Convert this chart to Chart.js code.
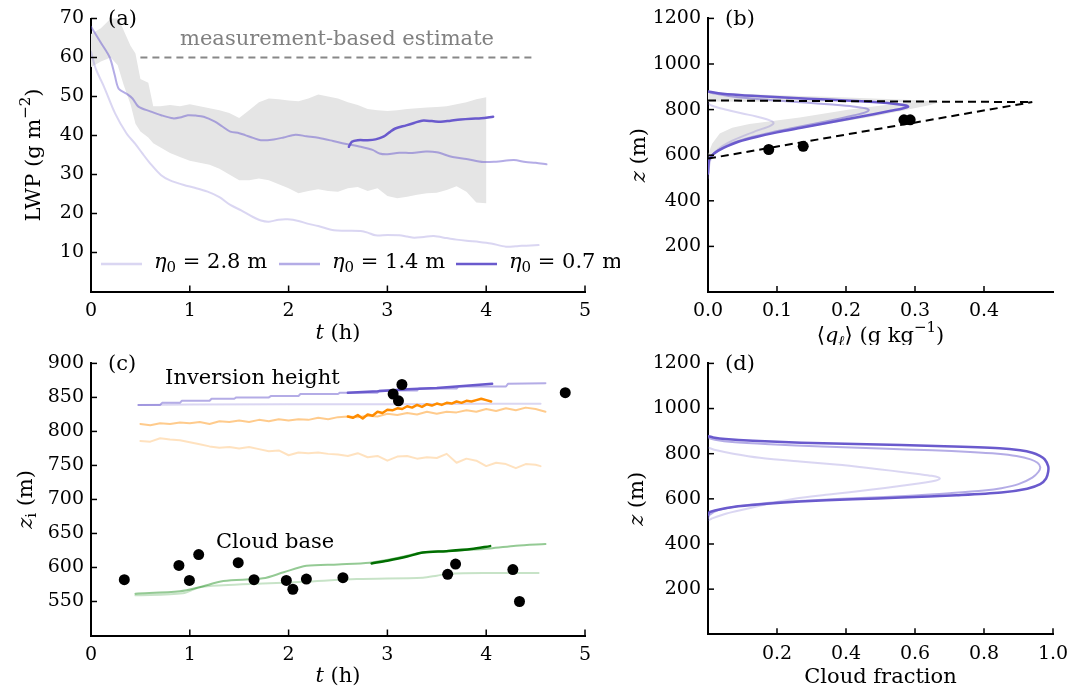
<!DOCTYPE html>
<html>
<head>
<meta charset="utf-8">
<script src="https://cdn.jsdelivr.net/npm/chart.js@4.4.1/dist/chart.umd.min.js"></script>
<style>
  body { margin: 0; background: #fff; width: 1084px; height: 689px; overflow: hidden; position: relative; }
  canvas { position: absolute; }
</style>
</head>
<body>
<canvas id="ca" width="620" height="345" style="left:0;top:0"></canvas>
<canvas id="cb" width="464" height="345" style="left:620px;top:0"></canvas>
<canvas id="cc" width="620" height="344" style="left:0;top:345px"></canvas>
<canvas id="cd" width="464" height="344" style="left:620px;top:345px"></canvas>
<script>
// ---- (a) liquid water path vs time ----
const aBandT  = [0, 0.1, 0.2, 0.27, 0.33, 0.4, 0.45, 0.5, 0.58, 0.63, 0.7, 0.8, 0.9, 1.0, 1.1, 1.2, 1.3, 1.4, 1.5, 1.6, 1.7, 1.8, 1.9, 2.0, 2.1, 2.2, 2.3, 2.4, 2.5, 2.6, 2.7, 2.8, 2.9, 3.0, 3.1, 3.2, 3.3, 3.4, 3.5, 3.6, 3.7, 3.8, 3.9, 4.0];
const aBandHi = [66, 67.5, 70, 70.5, 67, 63, 61, 54.5, 53.5, 47.5, 47.5, 47.8, 47.5, 48, 47.5, 47, 46.5, 45.8, 44.5, 46.5, 48.5, 49.5, 49.3, 49, 48.8, 49.5, 50.5, 50, 49.5, 48.5, 47.8, 46.8, 46.5, 46.3, 46.5, 46.8, 47, 47.2, 47.3, 47.5, 48, 48.5, 49.3, 49.8];
const aBandLo = [57.5, 59, 60, 58, 53, 48, 43, 41, 39.5, 38, 37, 35.5, 34.5, 33.5, 33, 32.5, 31.5, 30, 28.5, 28.5, 29, 28.5, 27.5, 26.5, 25.2, 25.8, 26.2, 25.8, 25.6, 26.5, 26.8, 25.8, 26.5, 24.5, 23.9, 24.3, 24.8, 25.2, 25.3, 26, 27, 25.6, 22.8, 22.6];
const aT28   = [0, 0.05, 0.13, 0.245, 0.36, 0.45, 0.52, 0.6, 0.71, 0.8, 0.94, 1.05, 1.18, 1.3, 1.41, 1.52, 1.64, 1.72, 1.8, 1.9, 1.99, 2.1, 2.19, 2.3, 2.46, 2.6, 2.73, 2.8, 2.88, 3.0, 3.12, 3.2, 3.27, 3.37, 3.47, 3.6, 3.7, 3.8, 3.93, 4.05, 4.2, 4.3, 4.36, 4.45, 4.53];
const aLwp28 = [61.5, 57, 52.6, 45.6, 40.5, 37.8, 35.4, 32.8, 29.8, 28.5, 27.3, 26.6, 25.6, 24.2, 22.2, 20.8, 19.1, 18.2, 17.9, 18.4, 18.5, 18.1, 17.4, 16.8, 15.7, 15.6, 15.5, 15.1, 14.4, 14.5, 14.4, 14.1, 13.8, 14.0, 14.2, 13.7, 13.3, 13.0, 12.7, 12.3, 11.5, 11.6, 11.7, 11.8, 11.9];
const aT14   = [0, 0.1, 0.19, 0.24, 0.28, 0.36, 0.42, 0.48, 0.6, 0.71, 0.83, 0.9, 0.98, 1.06, 1.14, 1.25, 1.33, 1.41, 1.5, 1.56, 1.64, 1.72, 1.85, 1.95, 2.07, 2.18, 2.3, 2.45, 2.57, 2.73, 2.85, 2.92, 3.0, 3.12, 3.25, 3.39, 3.5, 3.66, 3.8, 3.97, 4.1, 4.28, 4.4, 4.5, 4.61];
const aLwp14 = [67.9, 63.8, 60, 55.5, 52, 50.7, 49.5, 47.4, 46.2, 45.2, 44.4, 44.6, 45.2, 45.1, 44.8, 43.6, 42.3, 41, 40.6, 40.1, 39.4, 38.8, 39.0, 39.5, 40.2, 39.8, 39.4, 38.6, 37.9, 37.1, 36.3, 35.4, 35.2, 35.6, 35.5, 35.9, 35.7, 34.5, 34.0, 33.2, 33.3, 33.7, 33.2, 33.0, 32.6];
const aT07   = [2.61, 2.64, 2.7, 2.8, 2.88, 2.96, 3.02, 3.08, 3.19, 3.27, 3.35, 3.45, 3.54, 3.64, 3.74, 3.85, 3.95, 4.07];
const aLwp07 = [37.1, 38.4, 38.8, 38.8, 39.0, 39.7, 40.8, 41.8, 42.6, 43.2, 43.8, 43.7, 43.5, 43.8, 44.1, 44.3, 44.4, 44.8];
const aMeasT = [0.5, 4.5];
const aMeasLwp = [60, 60];
const aTicksX = [0, 1, 2, 3, 4, 5];
const aTicksY = [10, 20, 30, 40, 50, 60, 70];

// ---- (b) liquid water profiles ----
const bZ07 = [520, 570, 590, 605, 620, 640, 660, 680, 700, 720, 740, 760, 780, 795, 805, 812, 818, 825, 832, 840, 848, 856, 864, 872, 880];
const bQ07 = [0, 0.001, 0.003, 0.008, 0.015, 0.028, 0.045, 0.07, 0.1, 0.135, 0.17, 0.205, 0.24, 0.265, 0.282, 0.29, 0.287, 0.272, 0.245, 0.2, 0.145, 0.09, 0.045, 0.015, 0];
const bZ14 = [520, 580, 600, 620, 640, 660, 680, 700, 720, 740, 760, 775, 788, 798, 806, 814, 822, 830, 840, 850, 860, 870, 878];
const bQ14 = [0, 0.002, 0.006, 0.014, 0.026, 0.042, 0.064, 0.092, 0.125, 0.158, 0.19, 0.212, 0.228, 0.233, 0.228, 0.21, 0.18, 0.145, 0.1, 0.06, 0.03, 0.01, 0];
const bZ28 = [500, 560, 590, 615, 640, 665, 690, 710, 722, 732, 740, 748, 758, 770, 783, 796, 808, 818, 828];
const bQ28 = [0, 0.002, 0.005, 0.011, 0.021, 0.036, 0.056, 0.073, 0.085, 0.092, 0.095, 0.093, 0.085, 0.07, 0.05, 0.031, 0.015, 0.005, 0];
const bLoZ = [595, 620, 650, 695, 720, 737, 765, 800, 828, 833, 836];
const bLoQ = [0, 0.002, 0.006, 0.017, 0.035, 0.06, 0.133, 0.205, 0.278, 0.3, 0];
const bHiZ = [598, 650, 700, 740, 770, 800, 820, 832, 840, 848, 856, 864, 872, 880];
const bHiQ = [0.004, 0.03, 0.1, 0.18, 0.24, 0.29, 0.322, 0.335, 0.31, 0.25, 0.17, 0.09, 0.03, 0];
const bTopQ = [0, 0.47];
const bTopZ = [840, 833];
const bSlopeQ = [0, 0.47];
const bSlopeZ = [585, 833];
const bDotQ = [0.088, 0.138, 0.284, 0.293];
const bDotZ = [625, 639, 755, 755];
const bTicksX = [0, 0.1, 0.2, 0.3, 0.4];
const bTicksY = [200, 400, 600, 800, 1000, 1200];

// ---- (c) inversion height and cloud base ----
const cInvT28 = [0.48, 1.0, 2.0, 3.0, 4.0, 4.55];
const cInvZ28 = [839, 839.5, 840, 840, 840.5, 840.5];
const cInvT14 = [0.48, 0.7, 0.72, 0.9, 0.92, 1.2, 1.22, 1.45, 1.47, 1.8, 1.82, 2.1, 2.12, 2.5, 2.52, 2.9, 2.92, 3.3, 3.32, 3.7, 3.72, 4.2, 4.22, 4.6];
const cInvZ14 = [839, 839, 842, 842, 845, 845, 848, 848, 850, 850, 852, 852, 855, 855, 857, 857, 860, 860, 863, 863, 866, 866, 870, 871];
const cInvT07 = [2.6, 2.9, 3.2, 3.5, 3.8, 4.06];
const cInvZ07 = [857, 859, 862, 864, 867, 870];
const cOrT14 = [0.5, 0.6, 0.7, 0.8, 0.9, 1.0, 1.1, 1.2, 1.3, 1.4, 1.5, 1.6, 1.7, 1.8, 1.9, 2.0, 2.1, 2.2, 2.3, 2.4, 2.5, 2.6, 2.7, 2.8, 2.9, 3.0, 3.1, 3.2, 3.3, 3.4, 3.5, 3.6, 3.7, 3.8, 3.9, 4.0, 4.1, 4.2, 4.3, 4.4, 4.5, 4.6];
const cOrZ14 = [811, 809, 812, 811, 813, 812, 814, 811, 815, 814, 816, 814, 817, 815, 818, 816, 818, 817, 820, 818, 821, 822, 821, 823, 822, 826, 824, 827, 825, 829, 826, 829, 828, 831, 829, 833, 830, 834, 831, 835, 833, 829];
const cOrT28 = [0.5, 0.6, 0.7, 0.8, 0.9, 1.0, 1.1, 1.2, 1.3, 1.4, 1.5, 1.6, 1.7, 1.8, 1.9, 2.0, 2.1, 2.2, 2.3, 2.4, 2.5, 2.6, 2.7, 2.8, 2.9, 3.0, 3.1, 3.2, 3.3, 3.4, 3.5, 3.6, 3.7, 3.8, 3.9, 4.0, 4.1, 4.2, 4.3, 4.4, 4.5, 4.55];
const cOrZ28 = [786, 785, 790, 788, 787, 784, 781, 778, 776, 777, 775, 777, 774, 771, 772, 765, 769, 768, 769, 767, 766, 764, 768, 762, 764, 757, 763, 764, 760, 762, 761, 767, 754, 760, 757, 749, 754, 752, 746, 752, 751, 749];
const cOrT07 = [2.6, 2.65, 2.7, 2.75, 2.8, 2.85, 2.9, 2.95, 3.0, 3.05, 3.1, 3.15, 3.2, 3.25, 3.3, 3.35, 3.4, 3.45, 3.5, 3.55, 3.6, 3.65, 3.7, 3.75, 3.8, 3.85, 3.9, 3.95, 4.0, 4.05];
const cOrZ07 = [822, 820, 824, 819, 825, 823, 829, 827, 832, 831, 834, 833, 837, 835, 839, 836, 840, 838, 841, 839, 842, 841, 844, 842, 845, 844, 846, 848, 846, 844];
const cBaseT14 = [0.45, 0.9, 1.1, 1.34, 1.74, 1.95, 2.18, 2.5, 2.82, 3.1, 3.36, 3.7, 4.04, 4.3, 4.6];
const cBaseZ14 = [561.5, 565, 571, 580, 584, 593, 602.5, 604.5, 607, 614, 622, 625, 628, 632, 634.5];
const cBaseT28 = [0.45, 0.93, 1.1, 1.34, 1.74, 2.15, 2.69, 3.36, 3.5, 3.63, 4.04, 4.53];
const cBaseZ28 = [559, 562, 571, 574, 576.5, 579, 583, 585, 588, 591, 592, 592];
const cBaseT07 = [2.84, 3.0, 3.2, 3.36, 3.6, 3.85, 4.04];
const cBaseZ07 = [606, 610, 616, 622, 624, 627, 631.4];
const cDotT = [0.337, 0.89, 0.996, 1.09, 1.49, 1.65, 1.977, 2.043, 2.18, 2.55, 3.058, 3.112, 3.147, 3.61, 3.69, 4.27, 4.337, 4.8];
const cDotZ = [582, 603, 581, 619, 607, 582, 581, 568, 583, 585, 855, 845, 869, 590, 605, 597, 550, 857];
const cTicksX = [0, 1, 2, 3, 4, 5];
const cTicksY = [550, 600, 650, 700, 750, 800, 850, 900];

// ---- (d) cloud fraction profiles ----
const dZ07 = [530, 542, 564, 578, 588, 598, 606, 616, 628, 645, 665, 690, 720, 745, 775, 790, 804, 815, 824, 834, 842, 849, 857, 865, 872, 878];
const dF07 = [0, 0.005, 0.073, 0.17, 0.266, 0.42, 0.56, 0.72, 0.85, 0.925, 0.963, 0.98, 0.986, 0.986, 0.976, 0.962, 0.94, 0.905, 0.845, 0.66, 0.46, 0.27, 0.13, 0.05, 0.015, 0];
const dZ14 = [515, 530, 550, 570, 585, 595, 605, 615, 625, 637, 647, 665, 694, 720, 741, 760, 775, 790, 800, 808, 815, 823, 832, 842, 852, 862, 870];
const dF14 = [0, 0.005, 0.03, 0.1, 0.2, 0.32, 0.46, 0.6, 0.7, 0.8, 0.85, 0.9, 0.94, 0.958, 0.963, 0.955, 0.935, 0.894, 0.84, 0.76, 0.652, 0.5, 0.33, 0.18, 0.07, 0.02, 0];
const dZ28 = [505, 512, 535, 555, 576, 600, 621, 640, 657, 668, 677, 683, 689, 695, 702, 709, 725, 738, 752, 765, 782, 800, 815, 827];
const dF28 = [0, 0.01, 0.054, 0.11, 0.17, 0.25, 0.363, 0.47, 0.556, 0.61, 0.647, 0.665, 0.672, 0.668, 0.648, 0.615, 0.53, 0.459, 0.37, 0.266, 0.15, 0.073, 0.025, 0];
const dTicksX = [0.2, 0.4, 0.6, 0.8, 1.0];
const dTicksY = [200, 400, 600, 800, 1000, 1200];

const FONT = 'DejaVu Serif';
const TICK = 19, TXT = 21;
Chart.defaults.font.family = FONT;
Chart.defaults.color = '#000';

const purple = a => 'rgba(106,90,205,' + a + ')';
const orange = a => 'rgba(255,140,0,' + a + ')';
const green  = a => 'rgba(0,128,0,' + a + ')';
const pts = (xs, ys) => xs.map((x, i) => ({x: x, y: ys[i]}));

function line(xs, ys, color, w, extra) {
  return Object.assign({data: pts(xs, ys), showLine: true, borderColor: color, borderWidth: w,
    pointRadius: 0, fill: false, tension: 0, borderCapStyle: 'round', borderJoinStyle: 'round'}, extra || {});
}
function dots(xs, ys) {
  return {data: pts(xs, ys), showLine: false, pointRadius: 5.5, pointHoverRadius: 5.5,
    backgroundColor: '#000', borderWidth: 0, order: 0};
}
function band(xs, ys) {
  return {data: pts(xs, ys), showLine: true, borderColor: 'rgba(0,0,0,0)', borderWidth: 0,
    backgroundColor: '#e5e5e5', fill: 'shape', pointRadius: 0, order: 20};
}

function axis(pos, min, max, ticks, size, dec) {
  return {
    type: 'linear', position: pos, min: min, max: max,
    afterBuildTicks: s => { s.ticks = ticks.map(v => ({value: v})); },
    afterFit: s => { if (pos === 'left') s.width = size; else s.height = size; },
    grid: {display: false, drawTicks: false},
    border: {display: true, color: '#000', width: 2},
    ticks: {color: '#000', font: {family: FONT, size: TICK}, padding: pos === 'left' ? 7 : 8,
      autoSkip: false, maxRotation: 0,
      callback: v => (pos === 'bottom' && dec) ? Number(v).toFixed(dec) : String(v)}
  };
}

// rich text helpers (italics, sub/superscripts)
function partFont(p, size) {
  const s = (p.sup || p.sub) ? Math.round(size * 0.7) : size;
  return (p.i ? 'italic ' : '') + s + 'px "' + FONT + '"';
}
function richWidth(ctx, parts, size) {
  let w = 0;
  parts.forEach(p => { ctx.font = partFont(p, size); w += ctx.measureText(p.t).width; });
  return w;
}
function drawRich(ctx, parts, x, y, size, color, align) {
  const w = richWidth(ctx, parts, size);
  let cx = align === 'center' ? x - w / 2 : (align === 'right' ? x - w : x);
  ctx.fillStyle = color; ctx.textBaseline = 'middle'; ctx.textAlign = 'left';
  parts.forEach(p => {
    ctx.font = partFont(p, size);
    const dy = p.sup ? -size * 0.4 : (p.sub ? size * 0.25 : 0);
    ctx.fillText(p.t, cx, y + dy);
    cx += ctx.measureText(p.t).width;
  });
}

const decor = {
  id: 'decor',
  afterDraw(chart, args, o) {
    const ctx = chart.ctx, ca = chart.chartArea, xs = chart.scales.x, ys = chart.scales.y;
    ctx.save();
    // inward tick marks
    ctx.strokeStyle = '#000'; ctx.lineWidth = 1.5;
    xs.ticks.forEach(t => {
      const p = xs.getPixelForValue(t.value);
      ctx.beginPath(); ctx.moveTo(p, ca.bottom); ctx.lineTo(p, ca.bottom - 6); ctx.stroke();
    });
    ys.ticks.forEach(t => {
      const p = ys.getPixelForValue(t.value);
      ctx.beginPath(); ctx.moveTo(ca.left, p); ctx.lineTo(ca.left + 6, p); ctx.stroke();
    });
    // panel letter
    drawRich(ctx, [{t: o.tag}], ca.left + 17, ca.top + 1, TXT, '#000', 'left');
    // axis titles
    drawRich(ctx, o.xTitle, (ca.left + ca.right) / 2, ca.bottom + o.xOff, TXT, '#000', 'center');
    ctx.translate(ca.left - o.yOff, (ca.top + ca.bottom) / 2);
    ctx.rotate(-Math.PI / 2);
    drawRich(ctx, o.yTitle, 0, 0, TXT, '#000', 'center');
    ctx.setTransform(1, 0, 0, 1, 0, 0);
    // notes at data coordinates
    (o.notes || []).forEach(n => {
      drawRich(ctx, n.parts, xs.getPixelForValue(n.x), ys.getPixelForValue(n.y), TXT, n.color || '#000', n.align || 'left');
    });
    // legend
    (o.legend || []).forEach(l => {
      ctx.strokeStyle = l.color; ctx.lineWidth = l.w;
      ctx.beginPath(); ctx.moveTo(l.x, l.y); ctx.lineTo(l.x + 41, l.y); ctx.stroke();
      drawRich(ctx, l.parts, l.x + 53, l.y - 1, TXT, '#000', 'left');
    });
    ctx.restore();
  }
};

function make(id, datasets, scales, pad, deco) {
  return new Chart(document.getElementById(id), {
    type: 'scatter',
    data: {datasets: datasets},
    options: {
      responsive: false, animation: false, events: [],
      layout: {padding: pad},
      scales: scales,
      plugins: {legend: {display: false}, tooltip: {enabled: false}, decor: deco}
    },
    plugins: [decor]
  });
}

const tTitle = [{t: 't', i: 1}, {t: ' (h)'}];
const zTitle = [{t: 'z', i: 1}, {t: ' (m)'}];
const eta = v => [{t: 'η', i: 1}, {t: '0', sub: 1}, {t: ' = ' + v + ' m'}];
const smooth = {tension: 0.3};

// (a)
make('ca', [
  band(aBandT.concat(aBandT.slice().reverse()), aBandLo.concat(aBandHi.slice().reverse())),
  line(aMeasT, aMeasLwp, '#888888', 2, {borderDash: [7, 5], borderCapStyle: 'butt', order: 15}),
  line(aT28, aLwp28, purple(0.25), 2, Object.assign({order: 5}, smooth)),
  line(aT14, aLwp14, purple(0.5), 2, Object.assign({order: 4}, smooth)),
  line(aT07, aLwp07, purple(1), 2.5, Object.assign({order: 3}, smooth))
], {
  x: axis('bottom', 0, 5, aTicksX, 53.5, 0),
  y: axis('left', 0, 70, aTicksY, 91, 0)
}, {top: 18.5, right: 35, left: 0, bottom: 0}, {
  tag: '(a)', xTitle: tTitle, xOff: 42, yOff: 56,
  yTitle: [{t: 'LWP (g m'}, {t: '−2', sup: 1}, {t: ')'}],
  notes: [{x: 2.49, y: 64.6, parts: [{t: 'measurement-based estimate'}], color: '#808080', align: 'center'}],
  legend: [
    {x: 101, y: 264, color: purple(0.25), w: 2.5, parts: eta('2.8')},
    {x: 279, y: 264, color: purple(0.5), w: 2.5, parts: eta('1.4')},
    {x: 456, y: 264, color: purple(1), w: 2.5, parts: eta('0.7')}
  ]
});

// (b)
make('cb', [
  band(bLoQ.concat(bHiQ.slice().reverse()), bLoZ.concat(bHiZ.slice().reverse())),
  line(bQ28, bZ28, purple(0.25), 2, Object.assign({order: 6}, smooth)),
  line(bQ14, bZ14, purple(0.5), 2, Object.assign({order: 5}, smooth)),
  line(bQ07, bZ07, purple(1), 2.5, Object.assign({order: 4}, smooth)),
  line(bTopQ, bTopZ, '#000', 2, {borderDash: [8, 5], borderCapStyle: 'butt', order: 2}),
  line(bSlopeQ, bSlopeZ, '#000', 2, {borderDash: [8, 5], borderCapStyle: 'butt', order: 2}),
  dots(bDotQ, bDotZ)
], {
  x: axis('bottom', 0, 0.5, bTicksX, 53, 1),
  y: axis('left', 0, 1200, bTicksY, 88, 0)
}, {top: 17.5, right: 31, left: 0, bottom: 0}, {
  tag: '(b)', xOff: 45, yOff: 68, yTitle: zTitle,
  xTitle: [{t: '⟨'}, {t: 'q', i: 1}, {t: 'ℓ', sub: 1, i: 1}, {t: '⟩ (g kg'}, {t: '−1', sup: 1}, {t: ')'}]
});

// (c)
make('cc', [
  line(cInvT28, cInvZ28, purple(0.25), 2, {order: 9}),
  line(cInvT14, cInvZ14, purple(0.5), 2, {order: 8}),
  line(cInvT07, cInvZ07, purple(1), 2.5, {order: 3}),
  line(cOrT28, cOrZ28, orange(0.25), 2, {order: 9}),
  line(cOrT14, cOrZ14, orange(0.45), 2, {order: 8}),
  line(cOrT07, cOrZ07, orange(1), 2.5, {order: 3}),
  line(cBaseT28, cBaseZ28, green(0.22), 2, Object.assign({order: 9}, smooth)),
  line(cBaseT14, cBaseZ14, green(0.42), 2, Object.assign({order: 8}, smooth)),
  line(cBaseT07, cBaseZ07, 'rgba(0,110,0,1)', 2.5, Object.assign({order: 3}, smooth)),
  dots(cDotT, cDotZ)
], {
  x: axis('bottom', 0, 5, cTicksX, 53.5, 0),
  y: axis('left', 500, 900, cTicksY, 91, 0)
}, {top: 16.7, right: 35, left: 0, bottom: 0}, {
  tag: '(c)', xTitle: tTitle, xOff: 41, yOff: 64,
  yTitle: [{t: 'z', i: 1}, {t: 'i', sub: 1}, {t: ' (m)'}],
  notes: [
    {x: 0.75, y: 877, parts: [{t: 'Inversion height'}]},
    {x: 1.265, y: 637, parts: [{t: 'Cloud base'}]}
  ]
});

// (d)
make('cd', [
  line(dF28, dZ28, purple(0.25), 2, Object.assign({order: 6}, smooth)),
  line(dF14, dZ14, purple(0.5), 2, Object.assign({order: 5}, smooth)),
  line(dF07, dZ07, purple(1), 2.5, Object.assign({order: 4}, smooth))
], {
  x: axis('bottom', 0, 1, dTicksX, 54.7, 1),
  y: axis('left', 0, 1200, dTicksY, 88, 0)
}, {top: 17.7, right: 31, left: 0, bottom: 0}, {
  tag: '(d)', xOff: 43, yOff: 70, yTitle: zTitle,
  xTitle: [{t: 'Cloud fraction'}]
});
</script>
</body>
</html>
